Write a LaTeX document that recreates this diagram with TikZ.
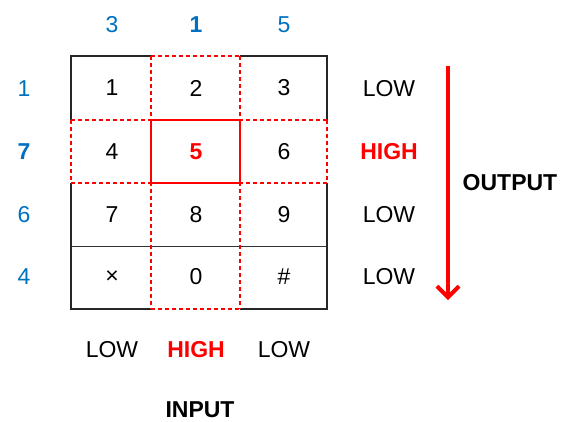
\documentclass[tikz,border=0pt]{standalone}
\usepackage{fontspec}
\setmainfont{Liberation Sans}
\usetikzlibrary{arrows.meta}
\definecolor{keyblue}{RGB}{0,112,192}
\begin{document}
\begin{tikzpicture}[x=1pt,y=-1pt,
  lbl/.style={font=\fontsize{23}{27}\selectfont, inner sep=0pt},
  boldlbl/.style={lbl, font=\fontsize{23}{27}\selectfont\bfseries},
  idx/.style={lbl, text=keyblue},
  boldidx/.style={boldlbl, text=keyblue},
  hot/.style={boldlbl, text=red},
  frameline/.style={draw=black!85, line width=1.4pt},
  thinline/.style={draw=black!80, line width=0.9pt},
  scanline/.style={draw=red, line width=1.1pt, dash pattern=on 4pt off 3pt},
  activebox/.style={draw=red, line width=2pt}
]
\useasboundingbox (0,0) rectangle (565,421);

% black outer frame segments (corners)
\draw[frameline] (151,56) -- (71,56) -- (71,120);
\draw[frameline] (240,56) -- (327,56) -- (327,120);
\draw[frameline] (71,183) -- (71,309) -- (151,309);
\draw[frameline] (327,183) -- (327,309) -- (240,309);
% row separator between 7-8-9 and x-0-#
\draw[thinline] (71,246) -- (327,246);

% red dashed scan lines: active column and active row
\draw[scanline] (151,56) -- (240,56);
\draw[scanline] (151,309) -- (240,309);
\draw[scanline] (151,56) -- (151,309);
\draw[scanline] (240,56) -- (240,309);
\draw[scanline] (71,120) -- (327,120);
\draw[scanline] (71,183) -- (327,183);
\draw[scanline] (71,120) -- (71,183);
\draw[scanline] (327,120) -- (327,183);

% pressed key
\draw[activebox] (151,120) rectangle (240,183);

% key labels
\node[lbl] (k1) at (112,88) {1};
\node[lbl] (k2) at (196,88) {2};
\node[lbl] (k3) at (284,88) {3};
\node[lbl] (k4) at (112,152) {4};
\node[hot] (k5) at (196,152) {5};
\node[lbl] (k6) at (284,152) {6};
\node[lbl] (k7) at (112,215) {7};
\node[lbl] (k8) at (196,215) {8};
\node[lbl] (k9) at (284,215) {9};
\node[lbl] (kstar) at (112,277) {×};
\node[lbl] (k0) at (196,277) {0};
\node[lbl] (khash) at (284,277) {\#};

% column pin numbers
\node[idx] (c1) at (112,25) {3};
\node[boldidx] (c2) at (196,25) {1};
\node[idx] (c3) at (284,25) {5};

% row pin numbers
\node[idx] (r1) at (24,89) {1};
\node[boldidx] (r2) at (24,152) {7};
\node[idx] (r3) at (24,215) {6};
\node[idx] (r4) at (24,277) {4};

% row output levels
\node[lbl] (o1) at (389,89) {LOW};
\node[hot] (o2) at (389,152) {HIGH};
\node[lbl] (o3) at (389,215) {LOW};
\node[lbl] (o4) at (389,277) {LOW};

% scan direction arrow
\coordinate (atop) at (448,66);
\coordinate (abot) at (448,300);
\draw[red, line width=4pt, -{Straight Barb[length=11pt,width=22pt,line width=4pt]}] (atop) -- (abot);
\node[boldlbl] (out) at (510,183) {OUTPUT};

% column input levels
\node[lbl] (i1) at (112,350) {LOW};
\node[hot] (i2) at (196,350) {HIGH};
\node[lbl] (i3) at (284,350) {LOW};
\node[boldlbl] (in) at (200,410) {INPUT};
\end{tikzpicture}
\end{document}
